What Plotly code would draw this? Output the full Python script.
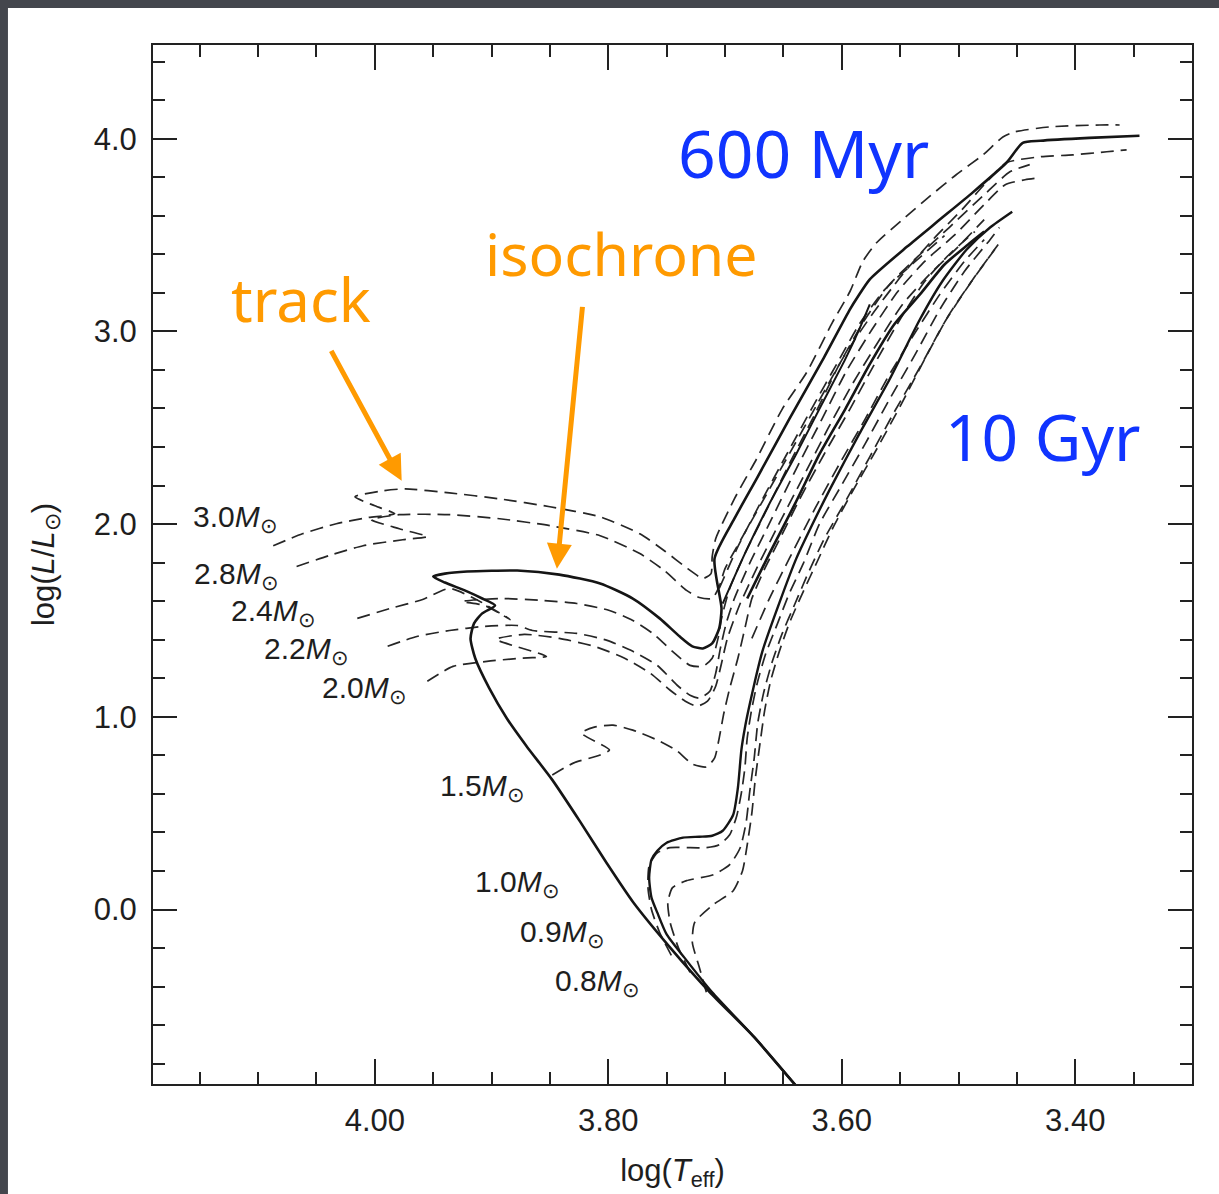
import plotly.graph_objects as go

# ---------------- axis ticks ----------------
X_TICK_VALUES = [4.0, 3.8, 3.6, 3.4]
X_TICK_TEXT = ["4.00", "3.80", "3.60", "3.40"]
Y_TICK_VALUES = [0, 1, 2, 3, 4]
Y_TICK_TEXT = ["0.0", "1.0", "2.0", "3.0", "4.0"]

# ---------------- isochrones (solid) ----------------
ISO_600MYR_LOGT = [3.631, 3.675, 3.713, 3.747, 3.779, 3.801, 3.824, 3.848, 3.870, 3.887,
                   3.902, 3.914, 3.918, 3.915, 3.908, 3.897, 3.908, 3.923, 3.940, 3.950,
                   3.940, 3.921, 3.878, 3.842, 3.807, 3.779, 3.756, 3.739, 3.728, 3.719,
                   3.711, 3.705, 3.703, 3.709, 3.692, 3.673, 3.645, 3.616, 3.593, 3.586,
                   3.576, 3.544, 3.516, 3.488, 3.459, 3.445, 3.430, 3.388, 3.345]
ISO_600MYR_LOGL = [-0.973, -0.662, -0.429, -0.197, 0.041, 0.238, 0.455, 0.673, 0.848, 0.993,
                   1.149, 1.304, 1.407, 1.485, 1.537, 1.578, 1.614, 1.656, 1.697, 1.728,
                   1.743, 1.754, 1.759, 1.738, 1.692, 1.614, 1.511, 1.418, 1.366, 1.355,
                   1.381, 1.459, 1.562, 1.821, 2.028, 2.235, 2.545, 2.856, 3.114, 3.182,
                   3.270, 3.440, 3.580, 3.720, 3.875, 3.978, 3.989, 4.004, 4.015]

ISO_10GYR_LOGT = [3.631, 3.675, 3.711, 3.735, 3.750, 3.758, 3.763, 3.765, 3.763, 3.758,
                  3.750, 3.736, 3.722, 3.711, 3.702, 3.693, 3.689, 3.686, 3.683, 3.679,
                  3.668, 3.653, 3.639, 3.627, 3.610, 3.585, 3.559, 3.533, 3.514, 3.493,
                  3.473, 3.454]
ISO_10GYR_LOGL = [-0.973, -0.662, -0.429, -0.248, -0.129, -0.016, 0.062, 0.166, 0.259, 0.305,
                  0.347, 0.373, 0.378, 0.383, 0.409, 0.492, 0.631, 0.828, 0.942, 1.061,
                  1.340, 1.599, 1.821, 1.976, 2.183, 2.468, 2.752, 3.063, 3.259, 3.425,
                  3.539, 3.621]

# second solid branches inside the giant-branch bundle
BRANCH_A_LOGT = [3.702, 3.683, 3.662, 3.639, 3.617, 3.597, 3.585, 3.576]
BRANCH_A_LOGL = [1.588, 1.847, 2.106, 2.364, 2.623, 2.856, 3.011, 3.140]
BRANCH_B_LOGT = [3.681, 3.662, 3.640, 3.619, 3.597, 3.576, 3.555, 3.533, 3.512, 3.492, 3.478]
BRANCH_B_LOGL = [1.614, 1.847, 2.106, 2.364, 2.597, 2.830, 3.037, 3.192, 3.347, 3.450, 3.518]

# ---------------- evolutionary tracks (dashed) ----------------
TRACK_30_LOGT = [4.087, 4.062, 4.033, 4.007, 3.983, 4.000, 4.017, 3.993, 3.974, 3.936,
                 3.893, 3.850, 3.807, 3.773, 3.752, 3.732, 3.719, 3.712, 3.711, 3.708,
                 3.692, 3.673, 3.651, 3.630, 3.608, 3.593, 3.582, 3.570, 3.548, 3.525,
                 3.502, 3.479, 3.462, 3.452, 3.422, 3.379, 3.362]
TRACK_30_LOGL = [1.888, 1.950, 2.002, 2.033, 2.054, 2.095, 2.142, 2.173, 2.183, 2.162,
                 2.131, 2.090, 2.038, 1.950, 1.862, 1.769, 1.718, 1.743, 1.831, 1.924,
                 2.131, 2.338, 2.597, 2.788, 3.047, 3.207, 3.363, 3.461, 3.580, 3.699,
                 3.813, 3.916, 4.009, 4.035, 4.061, 4.071, 4.071]

TRACK_28_LOGT = [4.067, 4.039, 4.010, 3.976, 3.955, 3.979, 4.003, 3.979, 3.936, 3.893,
                 3.850, 3.807, 3.773, 3.752, 3.733, 3.722, 3.711, 3.705, 3.700, 3.686,
                 3.669, 3.645, 3.621, 3.597, 3.574, 3.548, 3.522, 3.497, 3.478, 3.459,
                 3.430, 3.402, 3.373, 3.356]
TRACK_28_LOGL = [1.780, 1.837, 1.888, 1.919, 1.935, 1.976, 2.023, 2.049, 2.049, 2.028,
                 1.992, 1.940, 1.847, 1.759, 1.656, 1.619, 1.614, 1.676, 1.769, 1.924,
                 2.106, 2.364, 2.623, 2.882, 3.088, 3.295, 3.476, 3.632, 3.761, 3.875,
                 3.906, 3.916, 3.932, 3.942]

TRACK_24_LOGT = [4.015, 3.987, 3.959, 3.936, 3.910, 3.884, 3.906, 3.925, 3.893, 3.856,
                 3.827, 3.799, 3.779, 3.762, 3.745, 3.730, 3.719, 3.711, 3.706, 3.703,
                 3.696, 3.683, 3.666, 3.645, 3.623, 3.602, 3.580, 3.559, 3.533, 3.508,
                 3.478, 3.456, 3.439]
TRACK_24_LOGL = [1.511, 1.562, 1.609, 1.666, 1.599, 1.505, 1.578, 1.599, 1.614, 1.604,
                 1.588, 1.552, 1.500, 1.433, 1.340, 1.267, 1.262, 1.304, 1.407, 1.511,
                 1.666, 1.847, 2.054, 2.312, 2.571, 2.830, 3.063, 3.244, 3.399, 3.539,
                 3.709, 3.828, 3.865]

TRACK_22_LOGT = [3.989, 3.964, 3.936, 3.907, 3.878, 3.865, 3.827, 3.801, 3.779, 3.758,
                 3.741, 3.730, 3.722, 3.713, 3.708, 3.704, 3.699, 3.692, 3.679, 3.660,
                 3.639, 3.617, 3.596, 3.574, 3.552, 3.529, 3.503, 3.478, 3.460, 3.443,
                 3.430]
TRACK_22_LOGL = [1.366, 1.417, 1.448, 1.469, 1.474, 1.448, 1.433, 1.397, 1.340, 1.267,
                 1.164, 1.112, 1.097, 1.133, 1.226, 1.355, 1.485, 1.614, 1.795, 2.028,
                 2.287, 2.545, 2.794, 3.011, 3.207, 3.363, 3.502, 3.658, 3.761, 3.787,
                 3.797]

TRACK_20_LOGT = [3.955, 3.933, 3.904, 3.876, 3.853, 3.896, 3.872, 3.842, 3.812, 3.786,
                 3.764, 3.747, 3.734, 3.724, 3.715, 3.708, 3.703, 3.698, 3.687, 3.673,
                 3.655, 3.633, 3.612, 3.591, 3.569, 3.548, 3.525, 3.501, 3.478]
TRACK_20_LOGL = [1.185, 1.262, 1.288, 1.304, 1.314, 1.402, 1.428, 1.407, 1.366, 1.304,
                 1.226, 1.138, 1.081, 1.055, 1.081, 1.159, 1.278, 1.407, 1.588, 1.769,
                 1.987, 2.245, 2.494, 2.726, 2.944, 3.140, 3.295, 3.435, 3.580]

TRACK_15_LOGT = [3.848, 3.830, 3.807, 3.799, 3.823, 3.812, 3.796, 3.779, 3.756, 3.741,
                 3.728, 3.716, 3.709, 3.705, 3.701, 3.696, 3.689, 3.683, 3.677, 3.666,
                 3.653, 3.636, 3.615, 3.593, 3.572, 3.550, 3.529, 3.508, 3.486]
TRACK_15_LOGL = [0.698, 0.760, 0.802, 0.828, 0.916, 0.947, 0.957, 0.931, 0.874, 0.823,
                 0.755, 0.740, 0.786, 0.890, 1.019, 1.148, 1.304, 1.459, 1.614, 1.769,
                 1.924, 2.131, 2.364, 2.597, 2.830, 3.063, 3.259, 3.399, 3.518]

TRACK_10_LOGT = [3.746, 3.756, 3.763, 3.766, 3.765, 3.758, 3.747, 3.730, 3.716, 3.705,
                 3.696, 3.690, 3.686, 3.683, 3.681, 3.677, 3.672, 3.665, 3.655, 3.645,
                 3.633, 3.619, 3.602, 3.580, 3.559, 3.537, 3.516, 3.495, 3.473, 3.465]
TRACK_10_LOGL = [-0.238, -0.119, 0.000, 0.114, 0.228, 0.295, 0.321, 0.321, 0.321, 0.336,
                 0.388, 0.486, 0.605, 0.735, 0.890, 1.045, 1.185, 1.330, 1.485, 1.640,
                 1.795, 2.002, 2.183, 2.416, 2.649, 2.882, 3.114, 3.311, 3.476, 3.539]

TRACK_09_LOGT = [3.730, 3.740, 3.747, 3.749, 3.745, 3.733, 3.710, 3.696, 3.687, 3.682,
                 3.679, 3.675, 3.672, 3.667, 3.660, 3.651, 3.640, 3.629, 3.615, 3.597,
                 3.576, 3.555, 3.533, 3.512, 3.490, 3.469]
TRACK_09_LOGL = [-0.326, -0.197, -0.067, 0.036, 0.114, 0.150, 0.181, 0.233, 0.321, 0.450,
                 0.605, 0.786, 0.967, 1.123, 1.278, 1.433, 1.588, 1.743, 1.924, 2.116,
                 2.349, 2.582, 2.814, 3.047, 3.249, 3.425]

TRACK_08_LOGT = [3.716, 3.722, 3.728, 3.726, 3.710, 3.693, 3.685, 3.681, 3.677, 3.674,
                 3.670, 3.666, 3.661, 3.654, 3.645, 3.633, 3.621, 3.608, 3.591, 3.570,
                 3.549, 3.529, 3.508, 3.486, 3.466]
TRACK_08_LOGL = [-0.429, -0.300, -0.171, -0.067, 0.026, 0.098, 0.202, 0.336, 0.502, 0.683,
                 0.864, 1.035, 1.185, 1.330, 1.485, 1.650, 1.806, 1.976, 2.168, 2.390,
                 2.623, 2.856, 3.088, 3.285, 3.451]

# second-ascent (asymptotic giant) dashed segments crowding the giant branch
AGB_LEFT_LOGT = [3.705, 3.689, 3.670, 3.647, 3.626, 3.603, 3.585, 3.563, 3.537, 3.512]
AGB_LEFT_LOGL = [1.666, 1.883, 2.106, 2.364, 2.597, 2.845, 3.037, 3.218, 3.363, 3.497]
AGB_RIGHT_LOGT = [3.677, 3.662, 3.645, 3.623, 3.602, 3.580, 3.559, 3.537, 3.516, 3.495, 3.478]
AGB_RIGHT_LOGL = [1.407, 1.614, 1.821, 2.080, 2.312, 2.545, 2.778, 2.995, 3.192, 3.363, 3.476]

# ---------------- track labels ----------------
MASS_LABELS = ["3.0", "2.8", "2.4", "2.2", "2.0", "1.5", "1.0", "0.9", "0.8"]
MASS_LABEL_LOGT = [4.081, 4.080, 4.049, 4.020, 3.971, 3.870, 3.840, 3.801, 3.771]
MASS_LABEL_LOGL = [2.028, 1.733, 1.542, 1.345, 1.143, 0.631, 0.134, -0.124, -0.378]

INK = "#151515"
ORANGE = "#ff9a00"
BLUE = "#1034ff"

fig = go.Figure()

dashed = [
    (TRACK_30_LOGT, TRACK_30_LOGL), (TRACK_28_LOGT, TRACK_28_LOGL),
    (TRACK_24_LOGT, TRACK_24_LOGL), (TRACK_22_LOGT, TRACK_22_LOGL),
    (TRACK_20_LOGT, TRACK_20_LOGL), (TRACK_15_LOGT, TRACK_15_LOGL),
    (TRACK_10_LOGT, TRACK_10_LOGL), (TRACK_09_LOGT, TRACK_09_LOGL),
    (TRACK_08_LOGT, TRACK_08_LOGL),
    (AGB_LEFT_LOGT, AGB_LEFT_LOGL), (AGB_RIGHT_LOGT, AGB_RIGHT_LOGL),
]
for lt, ll in dashed:
    fig.add_trace(go.Scatter(
        x=lt, y=ll, mode="lines",
        line=dict(color="#262626", width=1.7, dash="13px,7px",
                  shape="spline", smoothing=0.6),
        hoverinfo="skip", showlegend=False))

for lt, ll, w in [(BRANCH_A_LOGT, BRANCH_A_LOGL, 2.0),
                  (BRANCH_B_LOGT, BRANCH_B_LOGL, 2.6),
                  (ISO_10GYR_LOGT, ISO_10GYR_LOGL, 2.4),
                  (ISO_600MYR_LOGT, ISO_600MYR_LOGL, 2.6)]:
    fig.add_trace(go.Scatter(
        x=lt, y=ll, mode="lines",
        line=dict(color=INK, width=w, shape="spline", smoothing=0.6),
        hoverinfo="skip", showlegend=False))

annotations = []
for m, lt, ll in zip(MASS_LABELS, MASS_LABEL_LOGT, MASS_LABEL_LOGL):
    annotations.append(dict(
        x=lt, y=ll, xref="x", yref="y", showarrow=False,
        xanchor="right", yanchor="middle",
        text=m + "<i>M</i><sub>\u2299</sub>",
        font=dict(family="Liberation Sans, Arial", size=30, color="#1e1e1e")))

# coloured call-outs
annotations += [
    dict(x=4.063, y=3.166, xref="x", yref="y", text="track", showarrow=False,
         font=dict(family="Noto Sans", size=60, color=ORANGE)),
    dict(x=3.789, y=3.409, xref="x", yref="y", text="isochrone", showarrow=False,
         font=dict(family="Noto Sans", size=59, color=ORANGE)),
    dict(x=3.633, y=3.932, xref="x", yref="y", text="600 Myr", showarrow=False,
         font=dict(family="Noto Sans", size=66, color=BLUE)),
    dict(x=3.428, y=2.457, xref="x", yref="y", text="10 Gyr", showarrow=False,
         font=dict(family="Noto Sans", size=64, color=BLUE)),
    dict(x=3.977, y=2.225, ax=4.038, ay=2.907, xref="x", yref="y",
         axref="x", ayref="y", text="", showarrow=True, arrowhead=2,
         arrowsize=1, arrowwidth=5, arrowcolor=ORANGE, standoff=0),
    dict(x=3.844, y=1.769, ax=3.822, ay=3.135, xref="x", yref="y",
         axref="x", ayref="y", text="", showarrow=True, arrowhead=2,
         arrowsize=1, arrowwidth=5, arrowcolor=ORANGE, standoff=0),
]

axis_font = dict(family="Liberation Sans, Arial", size=31, color="#1e1e1e")
title_font = dict(family="Liberation Sans, Arial", size=31, color="#1e1e1e")

fig.update_layout(
    width=1219, height=1194,
    margin=dict(l=153, r=27, t=45, b=107),
    paper_bgcolor="#44464d",
    plot_bgcolor="white",
    annotations=annotations,
    shapes=[dict(type="rect", xref="paper", yref="paper", layer="below",
                 x0=-0.1396, x1=1.05, y0=-0.12, y1=1.0355,
                 fillcolor="white", line=dict(width=0))],
    xaxis=dict(
        range=[4.19, 3.30], tickvals=X_TICK_VALUES, ticktext=X_TICK_TEXT,
        ticks="inside", ticklen=25, tickwidth=1.6, tickcolor="#222",
        showline=True, linewidth=2, linecolor="#222", mirror="ticks",
        showgrid=False, zeroline=False, tickfont=axis_font,
        ticklabelstandoff=8,
        minor=dict(ticks="inside", dtick=0.05, tick0=4.0, ticklen=12,
                   tickwidth=1.6, tickcolor="#222", showgrid=False),
        title=dict(text="log(<i>T</i><sub>eff</sub>)", font=title_font, standoff=22),
    ),
    yaxis=dict(
        range=[-0.905, 4.486], tickvals=Y_TICK_VALUES, ticktext=Y_TICK_TEXT,
        ticks="inside", ticklen=24, tickwidth=1.6, tickcolor="#222",
        showline=True, linewidth=2, linecolor="#222", mirror="ticks",
        showgrid=False, zeroline=False, tickfont=axis_font,
        ticklabelstandoff=8,
        minor=dict(ticks="inside", dtick=0.2, tick0=0, ticklen=12,
                   tickwidth=1.6, tickcolor="#222", showgrid=False),
        title=dict(text="log(<i>L</i>/<i>L</i><sub>\u2299</sub>)", font=title_font, standoff=30),
    ),
)

fig.write_html("out.html")
